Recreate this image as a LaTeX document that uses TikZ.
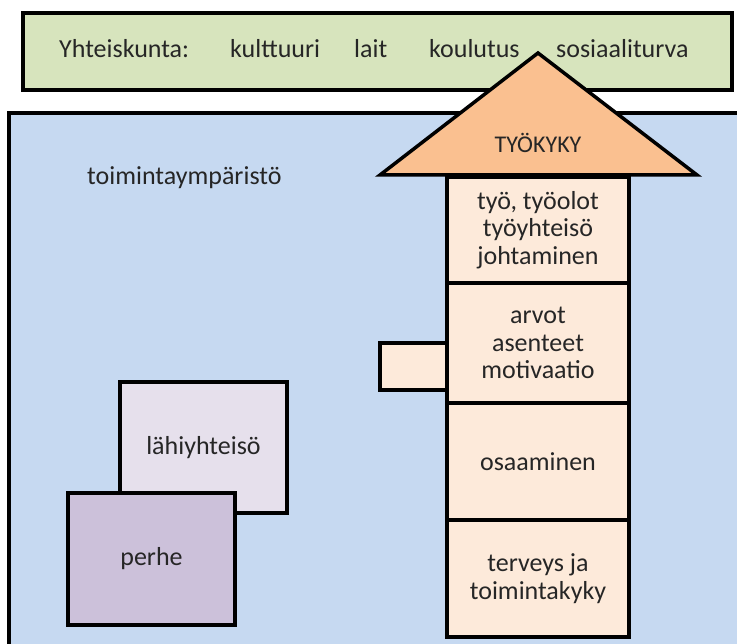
\documentclass[tikz,border=0pt]{standalone}
\usepackage{fontspec}
\setmainfont{Carlito}
\usepackage{xcolor}
\usetikzlibrary{positioning}
\definecolor{yhtgreen}{RGB}{215,228,189}
\definecolor{envblue}{RGB}{198,217,241}
\definecolor{rooforange}{RGB}{250,192,144}
\definecolor{floorpeach}{RGB}{253,234,218}
\definecolor{lahilila}{RGB}{230,224,236}
\definecolor{perhelila}{RGB}{204,193,218}
\definecolor{txt}{RGB}{38,38,38}
\tikzstyle{area} = [draw=black, line width=3.5pt]
\tikzstyle{floor} = [rectangle, draw=black, line width=3.5pt, fill=floorpeach, minimum width=182pt, outer sep=0pt, inner sep=0pt, align=center, text=txt]
\tikzstyle{sq} = [rectangle, draw=black, line width=3.5pt, minimum width=167pt, outer sep=0pt, text=txt]
\tikzstyle{lbl} = [text=txt, inner sep=0pt]
\tikzstyle{every node}=[font=\fontsize{26}{27.5}\selectfont]

\begin{document}
\begin{tikzpicture}[x=1pt,y=-1pt]
		\useasboundingbox (0,0) rectangle (737,644);
		\clip (0,0) rectangle (737,644);
		\fill[white] (0,0) rectangle (737,644);
		%yhteiskunta ja toimintaympäristö
		\draw[area, fill=yhtgreen] (23,13) rectangle (732,90);
		\draw[area, fill=envblue] (9,113) rectangle (760,670);
		
		\node (yht) [lbl, anchor=base west] at (59,58) {Yhteiskunta:};
		\node (kult) [lbl, anchor=base west] at (230,58) {kulttuuri};
		\node (lait) [lbl, anchor=base west] at (354,58) {lait};
		\node (koul) [lbl, anchor=base west] at (429,58) {koulutus};
		\node (sos) [lbl, anchor=base west] at (556,58) {sosiaaliturva};
		\node (ymp) [lbl, anchor=base west] at (87,185) {toimintaympäristö};
		
		%talon kerrokset
		\node (tab) [rectangle, draw=black, line width=3.5pt, fill=floorpeach, minimum width=68pt, minimum height=47pt] at (414,366.5) {};
		\node (f1) [floor, minimum height=106pt] at (538,230) {työ, työolot\\työyhteisö\\johtaminen};
		\node (f2) [floor, minimum height=120pt, below=0pt of f1] {arvot\\asenteet\\motivaatio};
		\node (f3) [floor, minimum height=117pt, below=0pt of f2] {osaaminen};
		\node (f4) [floor, minimum height=117pt, below=0pt of f3] {terveys ja\\toimintakyky};
		
		%katto
		\draw[area, fill=rooforange, line join=miter] (380,175) -- (538,53) -- (697,175) -- cycle;
		\node (tyokyky) [lbl, anchor=base, font=\fontsize{24}{26}\selectfont] at (538,153) {TYÖKYKY};
		
		%lähiyhteisö ja perhe
		\node (lahi) [sq, fill=lahilila, minimum height=131pt] at (203.5,447.5) {lähiyhteisö};
		\node (perhe) [sq, fill=perhelila, minimum height=132pt] at (151.5,559) {perhe};
		
	\end{tikzpicture}
\end{document}
